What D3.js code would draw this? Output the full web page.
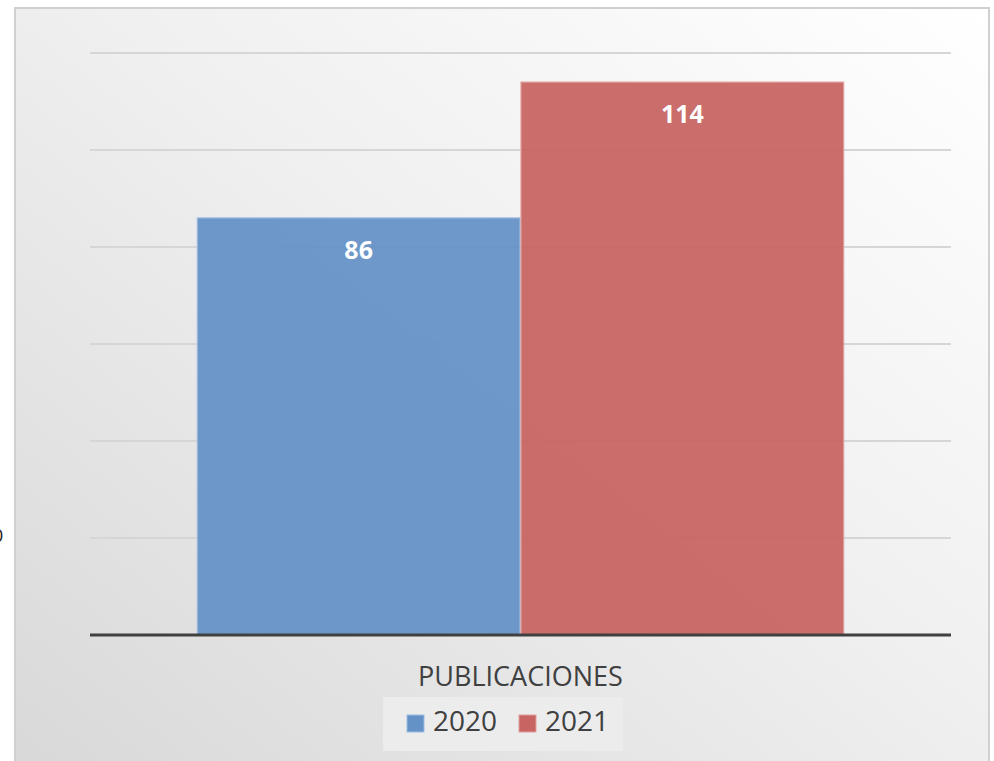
<!DOCTYPE html>
<html><head><meta charset="utf-8">
<script src="https://cdn.jsdelivr.net/npm/d3@7"></script>
<style>body{margin:0;background:#fff;overflow:hidden}svg{display:block}</style>
</head><body>
<svg id="c" width="994" height="761"></svg>
<script>
const categories = ["PUBLICACIONES"];
const seriesNames = ["2020", "2021"];
const values2020 = [86];
const values2021 = [114];
const yTicks = [0, 20, 40, 60, 80, 100, 120];
const colors = ["#6592c6", "#c86562"];

(function(){
const svg = d3.select("#c");
const defs = svg.append("defs");
const g1 = defs.append("linearGradient").attr("id","bg").attr("x1","100%").attr("y1","0%").attr("x2","0%").attr("y2","100%");
g1.append("stop").attr("offset","0%").attr("stop-color","#ffffff");
g1.append("stop").attr("offset","45%").attr("stop-color","#f0f0f0");
g1.append("stop").attr("offset","100%").attr("stop-color","#d8d8d8");

svg.append("rect").attr("x",15).attr("y",8).attr("width",974).attr("height",770)
  .attr("fill","url(#bg)").attr("stroke","#d0d0d0").attr("stroke-width",2);

// clipped stray label at left edge (cut off in the reference as well)
svg.append("text").attr("x",-7).attr("y",542).attr("font-family","Lato, sans-serif")
  .attr("font-size",17).attr("fill","#222").text("0");

const pLeft = 90, pRight = 951, pTop = 53, pBottom = 635;
const y = d3.scaleLinear().domain([0,120]).range([pBottom, pTop]);
const x0 = d3.scaleBand().domain(categories).range([pLeft,pRight]).paddingInner(0).paddingOuter(0.165);
const x1 = d3.scaleBand().domain(seriesNames).range([0, x0.bandwidth()]).padding(0);

// gridlines
svg.append("g").selectAll("line").data(yTicks.filter(d=>d>0)).join("line")
  .attr("x1",pLeft).attr("x2",pRight).attr("y1",d=>y(d)).attr("y2",d=>y(d))
  .attr("stroke","#d6d6d6").attr("stroke-width",2);

const data = categories.map((c,i)=>({cat:c, vals:[values2020[i], values2021[i]]}));
const gb = svg.append("g");
data.forEach(d=>{
  d.vals.forEach((v,j)=>{
    const xx = x0(d.cat)+x1(seriesNames[j]);
    gb.append("rect").attr("x",xx+0.5).attr("y",y(v)).attr("width",x1.bandwidth()-1).attr("height",y(0)-y(v))
      .attr("fill",colors[j]).attr("fill-opacity",0.95)
      .attr("stroke",j===0?"#9dbbe0":"#e0a09e").attr("stroke-width",1.2);
    gb.append("text").attr("x",xx+x1.bandwidth()/2).attr("y",y(v)+41)
      .attr("text-anchor","middle").attr("font-family","'Open Sans', sans-serif").attr("font-weight","bold")
      .attr("font-size",25).attr("fill","#ffffff").text(v);
  });
});

// baseline
svg.append("line").attr("x1",pLeft).attr("x2",pRight).attr("y1",y(0)).attr("y2",y(0))
  .attr("stroke","#404040").attr("stroke-width",3);

// category label
svg.append("text").attr("x",x0(categories[0])+x0.bandwidth()/2).attr("y",686)
  .attr("text-anchor","middle").attr("font-family","'Open Sans', sans-serif").attr("font-size",27)
  .attr("fill","#404040").text(categories[0]);

// legend
const lg = svg.append("g");
lg.append("rect").attr("x",383).attr("y",697).attr("width",240).attr("height",54).attr("fill","#ececec");
const legendX = [407, 519];
seriesNames.forEach((s,j)=>{
  lg.append("rect").attr("x",legendX[j]).attr("y",715).attr("width",17).attr("height",17)
    .attr("fill",colors[j]).attr("stroke",j===0?"#9dbbe0":"#e0a09e").attr("stroke-width",1);
  lg.append("text").attr("x",legendX[j]+26).attr("y",731).attr("font-family","'Open Sans', sans-serif")
    .attr("font-size",28).attr("fill","#404040").text(s);
});
})();
</script>
</body></html>
